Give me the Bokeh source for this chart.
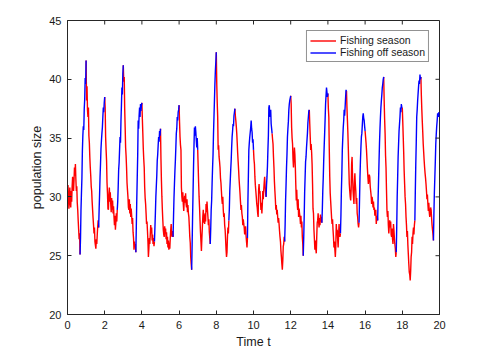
import numpy as np
from bokeh.plotting import figure
from bokeh.models import FixedTicker, Legend, LegendItem, Range1d
from bokeh.embed import file_html
from bokeh.resources import INLINE

# sampling of the path: 40 samples per year, off season starts 27 samples into each year
DT = 0.025
SAMPLES_PER_YEAR = 40
OFF_START = 27

y00 = [29.5, 31.0, 30.2, 29.0, 29.6, 30.8, 29.8, 29.1, 30.5, 29.6, 30.9, 31.7, 31.0, 30.5, 31.4, 32.5, 31.8, 32.8, 31.5, 30.5,
       30.9, 29.5, 28.9, 28.0, 27.2, 26.4, 26.9, 25.1, 26.5, 28.9, 30.3, 31.6, 33.9, 35.2, 36.0, 35.7, 37.5, 38.3, 40.1, 39.6]
y01 = [41.6, 38.2, 39.4, 37.4, 36.8, 37.6, 35.2, 34.6, 33.4, 32.5, 31.8, 30.9, 30.5, 29.6, 28.9, 28.2, 27.6, 26.9, 27.4, 26.2,
       25.9, 25.6, 26.4, 26.0, 26.8, 27.5, 28.0, 27.4, 28.9, 30.2, 31.7, 32.8, 34.1, 34.8, 35.4, 35.9, 36.8, 37.6, 37.2, 38.0]
y02 = [38.5, 37.6, 35.1, 34.0, 33.1, 31.2, 30.3, 29.0, 28.9, 30.1, 30.8, 29.6, 30.4, 29.4, 28.7, 29.9, 28.9, 29.7, 28.6, 29.2,
       28.3, 27.6, 28.4, 27.2, 27.8, 28.6, 27.9, 28.9, 29.6, 30.8, 32.3, 32.9, 34.0, 35.1, 34.6, 36.5, 37.8, 39.3, 38.7, 40.5]
y03 = [41.2, 39.8, 40.2, 37.5, 35.9, 34.2, 33.5, 32.5, 31.2, 30.6, 30.0, 29.1, 28.9, 29.8, 28.6, 29.4, 28.3, 29.0, 28.4, 27.7,
       28.2, 27.0, 26.5, 25.5, 26.2, 25.8, 26.0, 25.3, 27.5, 29.8, 31.7, 33.6, 36.5, 35.8, 36.9, 37.6, 36.8, 37.9, 37.3, 37.8]
y04 = [38.0, 36.6, 35.4, 34.1, 33.2, 32.5, 30.8, 29.9, 29.4, 28.6, 27.7, 27.9, 27.1, 26.2, 24.9, 25.6, 26.5, 26.0, 26.8, 27.6,
       26.9, 27.4, 26.3, 26.8, 26.0, 26.5, 25.8, 26.2, 27.4, 28.6, 30.0, 30.9, 31.8, 33.1, 33.6, 34.4, 35.1, 34.7, 35.6, 35.2]
y05 = [35.8, 33.2, 31.4, 30.0, 28.9, 28.0, 27.2, 26.8, 26.6, 27.5, 26.9, 27.3, 26.4, 27.0, 26.0, 26.6, 25.7, 26.3, 25.5, 26.1,
       25.6, 26.5, 27.2, 27.7, 26.8, 26.6, 27.1, 26.6, 28.3, 29.9, 31.1, 32.2, 33.1, 34.2, 35.4, 35.8, 36.8, 36.5, 37.2, 37.4]
y06 = [37.8, 36.3, 35.1, 34.4, 34.0, 30.8, 30.0, 29.6, 30.4, 29.4, 28.8, 29.7, 30.1, 29.5, 30.3, 29.4, 29.1, 29.8, 28.7, 29.3,
       28.6, 28.3, 27.5, 26.6, 26.1, 24.9, 24.3, 23.8, 25.9, 28.3, 30.4, 32.5, 34.3, 35.9, 35.2, 36.0, 35.5, 34.8, 34.2, 35.0]
y07 = [34.0, 32.6, 31.2, 30.0, 29.1, 28.0, 27.0, 26.2, 25.4, 26.5, 27.4, 28.3, 28.9, 27.8, 28.5, 27.7, 28.6, 27.9, 29.4, 28.7,
       29.6, 28.9, 28.3, 27.6, 28.1, 27.0, 26.5, 26.0, 27.3, 28.9, 29.7, 31.2, 32.5, 33.6, 35.4, 36.8, 38.2, 39.6, 40.7, 41.5]
y08 = [42.3, 39.6, 38.0, 36.8, 34.0, 34.4, 33.4, 33.0, 32.5, 31.6, 31.2, 30.5, 29.8, 29.4, 30.0, 28.9, 28.3, 28.6, 27.6, 27.2,
       26.4, 25.5, 24.9, 25.3, 26.6, 27.4, 26.9, 28.0, 28.9, 30.5, 31.4, 32.3, 33.1, 34.2, 35.1, 35.6, 36.2, 36.0, 36.9, 37.2]
y09 = [37.5, 36.9, 36.5, 36.0, 35.4, 34.6, 33.7, 33.0, 32.3, 31.5, 30.9, 30.3, 29.6, 28.9, 29.3, 28.6, 28.3, 27.6, 28.1, 27.7,
       27.4, 26.8, 27.2, 27.5, 26.7, 26.2, 25.7, 26.5, 29.7, 31.8, 34.0, 34.6, 35.1, 35.5, 35.9, 36.5, 35.8, 35.5, 34.6, 34.9]
y10 = [34.0, 33.2, 32.8, 31.7, 31.0, 30.5, 30.0, 29.4, 29.1, 28.6, 28.3, 30.6, 31.1, 30.3, 30.5, 29.6, 28.9, 29.5, 28.6, 29.4,
       30.5, 29.8, 30.6, 31.2, 31.7, 30.9, 30.4, 30.0, 31.0, 31.7, 32.6, 34.0, 35.2, 37.6, 37.8, 37.0, 36.8, 37.4, 36.2, 35.8]
y11 = [35.4, 34.9, 34.5, 33.4, 32.5, 31.3, 30.5, 29.8, 28.9, 29.3, 28.5, 28.9, 28.3, 27.8, 28.2, 27.7, 27.1, 26.6, 26.2, 25.4,
       24.9, 24.3, 23.8, 24.6, 25.8, 26.0, 26.6, 26.2, 27.6, 29.7, 31.0, 32.5, 33.6, 35.1, 35.8, 36.4, 37.4, 37.9, 38.2, 38.4]
y12 = [38.6, 37.9, 35.9, 35.0, 34.5, 33.2, 32.5, 33.4, 34.2, 33.6, 32.5, 31.0, 29.7, 30.6, 29.4, 28.9, 29.8, 28.3, 29.0, 28.6,
       28.3, 27.7, 28.4, 27.4, 27.9, 26.6, 26.0, 25.0, 26.5, 28.3, 30.4, 31.7, 33.0, 33.4, 34.2, 34.8, 35.4, 36.3, 36.8, 37.3]
y13 = [37.4, 36.2, 35.1, 34.0, 34.5, 33.8, 32.8, 31.1, 29.0, 28.6, 27.2, 26.4, 25.5, 26.3, 25.6, 25.2, 26.6, 27.8, 28.0, 28.6,
       27.9, 27.4, 28.2, 27.6, 28.5, 27.9, 28.3, 27.8, 28.9, 30.5, 31.6, 33.1, 34.3, 35.4, 36.6, 37.9, 38.6, 39.3, 38.9, 38.5]
y14 = [38.8, 37.5, 36.8, 34.0, 31.7, 30.3, 29.6, 28.9, 28.2, 27.7, 28.1, 27.2, 26.6, 25.7, 26.2, 25.5, 24.9, 25.8, 27.7, 27.0,
       27.2, 26.4, 25.7, 26.8, 27.7, 27.0, 26.6, 26.9, 28.4, 30.5, 32.0, 34.0, 35.0, 35.9, 36.5, 37.4, 36.9, 37.6, 38.4, 39.1]
y15 = [39.0, 37.6, 36.5, 35.4, 34.0, 32.5, 31.1, 30.5, 30.0, 29.7, 30.6, 32.8, 33.4, 31.8, 30.6, 30.0, 29.4, 31.1, 32.0, 31.1,
       30.5, 29.4, 29.9, 28.6, 28.3, 27.7, 27.4, 27.8, 29.7, 31.7, 33.1, 34.2, 35.1, 35.4, 36.1, 36.8, 37.1, 36.7, 36.5, 36.0]
y16 = [35.6, 35.1, 34.6, 34.0, 33.2, 32.4, 31.7, 31.1, 31.5, 31.9, 31.7, 30.9, 30.5, 30.1, 29.4, 30.0, 29.7, 29.1, 29.6, 28.9,
       29.1, 28.4, 28.6, 28.9, 27.7, 28.2, 28.4, 28.0, 29.9, 31.5, 33.1, 34.6, 35.8, 36.8, 37.6, 38.2, 38.7, 39.3, 39.6, 40.0]
y17 = [40.2, 38.2, 36.6, 35.4, 33.5, 32.5, 30.6, 28.9, 28.3, 28.8, 27.6, 26.9, 27.5, 28.0, 27.4, 27.9, 26.8, 26.6, 27.3, 26.4,
       26.0, 27.7, 27.2, 26.5, 26.0, 25.6, 24.9, 25.3, 27.4, 30.0, 31.6, 33.4, 34.5, 35.6, 36.2, 36.8, 37.6, 37.2, 37.9, 37.6]
y18 = [37.6, 36.4, 35.1, 33.8, 32.2, 31.1, 30.0, 29.4, 28.3, 27.6, 26.6, 27.1, 25.9, 25.1, 24.3, 23.6, 23.4, 22.9, 23.7, 24.9,
       25.3, 26.6, 26.0, 26.9, 27.4, 26.8, 27.6, 28.0, 30.5, 32.8, 34.6, 36.8, 37.4, 38.2, 38.8, 39.4, 39.9, 39.6, 40.4, 40.0]
y19 = [40.2, 38.6, 37.4, 36.4, 35.5, 34.5, 33.8, 33.1, 32.5, 32.0, 31.6, 31.1, 30.5, 29.8, 30.2, 29.4, 28.8, 29.5, 28.7, 28.3,
       28.6, 29.1, 28.9, 28.2, 27.6, 27.2, 26.8, 26.3, 28.6, 30.4, 31.7, 33.0, 34.5, 35.3, 36.0, 36.5, 37.1, 36.8, 37.1, 37.2]
y_end = [36.8]

x_ticks = [0, 2, 4, 6, 8, 10, 12, 14, 16, 18, 20]
y_ticks = [20, 25, 30, 35, 40, 45]
X_MIN, X_MAX = 0, 20
Y_MIN, Y_MAX = 20, 45

years = [y00, y01, y02, y03, y04, y05, y06, y07, y08, y09,
         y10, y11, y12, y13, y14, y15, y16, y17, y18, y19]
values = np.array([v for yr in years for v in yr] + y_end)
t = np.arange(len(values)) * DT

red_xs, red_ys, blue_xs, blue_ys = [], [], [], []
for k in range(len(years)):
    s = k * SAMPLES_PER_YEAR
    red_xs.append(t[s:s + OFF_START + 1]); red_ys.append(values[s:s + OFF_START + 1])
    blue_xs.append(t[s + OFF_START:s + SAMPLES_PER_YEAR + 1]); blue_ys.append(values[s + OFF_START:s + SAMPLES_PER_YEAR + 1])

FONT = "Liberation Sans"
AX = "#262626"

p = figure(width=469, height=352, output_backend="svg", toolbar_location=None,
           x_range=Range1d(X_MIN, X_MAX), y_range=Range1d(Y_MIN, Y_MAX),
           min_border_left=67, min_border_right=30, min_border_top=20, min_border_bottom=38)
p.grid.visible = False
p.outline_line_color = AX
p.outline_line_width = 1
p.background_fill_color = "white"
p.border_fill_color = "white"

r_red = p.multi_line(red_xs, red_ys, line_color="#ff0000", line_width=1.4)
r_blue = p.multi_line(blue_xs, blue_ys, line_color="#0000ff", line_width=1.4)

# inward ticks on the top and right edges (MATLAB box style)
p.ray(x=x_ticks, y=[Y_MAX] * len(x_ticks), length=4, length_units="screen",
      angle=-np.pi / 2, line_color=AX, line_width=1)
p.ray(x=[X_MAX] * len(y_ticks), y=y_ticks, length=4, length_units="screen",
      angle=np.pi, line_color=AX, line_width=1)

for ax in (p.xaxis[0], p.yaxis[0]):
    ax.axis_line_color = AX
    ax.major_tick_in = 4
    ax.major_tick_out = 0
    ax.minor_tick_line_color = None
    ax.major_tick_line_color = AX
    ax.major_label_text_font = FONT
    ax.major_label_text_font_size = "11px"
    ax.major_label_text_color = "#1a1a1a"
    ax.axis_label_text_font = FONT
    ax.axis_label_text_font_size = "12.5px"
    ax.axis_label_text_font_style = "normal"
    ax.axis_label_text_color = "#1a1a1a"

p.xaxis.ticker = FixedTicker(ticks=x_ticks)
p.yaxis.ticker = FixedTicker(ticks=y_ticks)
p.xaxis.axis_label = "Time t"
p.yaxis.axis_label = "population size"
p.xaxis.major_label_standoff = 6
p.yaxis.major_label_standoff = 6
p.xaxis.axis_label_standoff = 3
p.yaxis.axis_label_standoff = 2

legend = Legend(items=[LegendItem(label="Fishing season", renderers=[r_red]),
                       LegendItem(label="Fishing off season", renderers=[r_blue])],
                location="top_right")
legend.label_text_font = FONT
legend.label_text_font_size = "10.5px"
legend.label_text_color = "#1a1a1a"
legend.border_line_color = AX
legend.border_line_width = 1
legend.padding = 3
legend.spacing = 0
legend.margin = 10
legend.glyph_width = 26
legend.glyph_height = 11
legend.label_height = 11
legend.label_standoff = 4
legend.background_fill_alpha = 1
p.add_layout(legend, "center")

open("out.html", "w").write(file_html(p, INLINE))
